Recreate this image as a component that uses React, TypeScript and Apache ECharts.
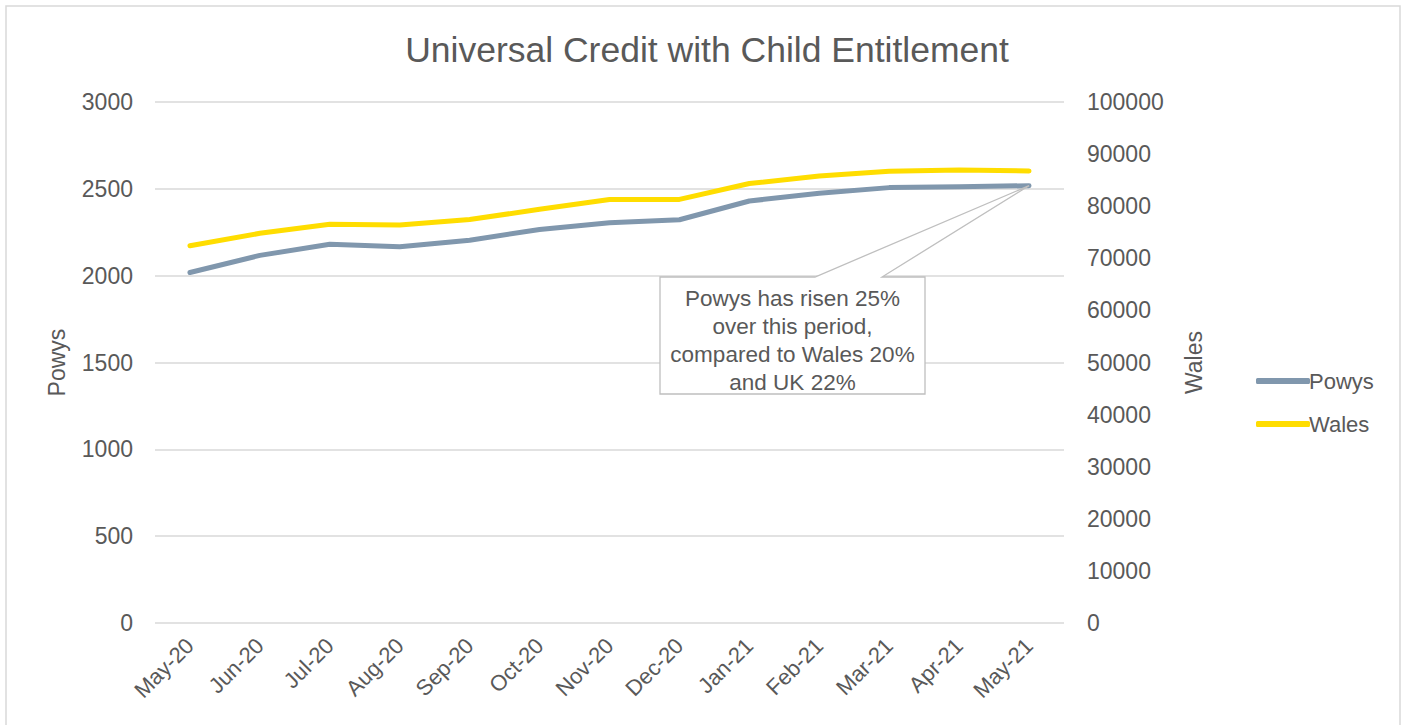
import React, { useEffect, useRef } from "react";
import * as echarts from "echarts";

const categories = ["May-20", "Jun-20", "Jul-20", "Aug-20", "Sep-20", "Oct-20", "Nov-20", "Dec-20", "Jan-21", "Feb-21", "Mar-21", "Apr-21", "May-21"];
const powys = [2018, 2117, 2181, 2166, 2204, 2266, 2305, 2322, 2430, 2474, 2507, 2512, 2518];
const wales = [72400, 74800, 76550, 76400, 77450, 79400, 81300, 81300, 84350, 85800, 86700, 86950, 86750];
const leftTicks = { min: 0, max: 3000, interval: 500 };
const rightTicks = { min: 0, max: 100000, interval: 10000 };
const noteLines = ["Powys has risen 25%", "over this period,", "compared to Wales 20%", "and UK 22%"];

const FONT = "Liberation Sans";
const TXT = "#595959";

export default function App() {
  const ref = useRef<HTMLDivElement>(null);
  useEffect(() => {
    if (!ref.current) return;
    const chart = echarts.init(ref.current, null, { renderer: "svg" });
    const plain = (v: number) => String(v);
    chart.setOption({
      animation: false,
      textStyle: { fontFamily: FONT, color: TXT },
      title: {
        text: "Universal Credit with Child Entitlement",
        left: 702,
        textAlign: "center",
        top: 27,
        textStyle: { fontFamily: FONT, fontSize: 35.5, fontWeight: "normal", color: TXT },
      },
      legend: {
        orient: "vertical",
        left: 1251,
        top: 365,
        itemWidth: 54,
        itemHeight: 6,
        itemGap: 21,
        icon: "roundRect",
        textStyle: { fontFamily: FONT, fontSize: 22, color: TXT, padding: [0, 0, 0, -6] },
        data: ["Powys", "Wales"],
      },
      grid: { left: 155, right: 342, top: 102, bottom: 102, containLabel: false },
      xAxis: {
        type: "category",
        data: categories,
        boundaryGap: true,
        axisLine: { show: false },
        axisTick: { show: false },
        axisLabel: { rotate: 45, fontSize: 22, color: TXT, fontFamily: FONT, margin: 19, interval: 0 },
      },
      yAxis: [
        {
          type: "value",
          ...leftTicks,
          name: "Powys",
          nameLocation: "middle",
          nameGap: 87,
          nameTextStyle: { fontSize: 23, color: TXT, fontFamily: FONT },
          axisLine: { show: false },
          axisTick: { show: false },
          axisLabel: { fontSize: 23, color: TXT, fontFamily: FONT, margin: 22, formatter: plain },
          splitLine: { lineStyle: { color: "#d9d9d9", width: 1.5 } },
        },
        {
          type: "value",
          ...rightTicks,
          position: "right",
          name: "Wales",
          nameLocation: "middle",
          nameGap: 118,
          nameTextStyle: { fontSize: 23, color: TXT, fontFamily: FONT },
          axisLine: { show: false },
          axisTick: { show: false },
          axisLabel: { fontSize: 23, color: TXT, fontFamily: FONT, margin: 23, formatter: plain },
          splitLine: { show: false },
        },
      ],
      series: [
        {
          name: "Powys",
          type: "line",
          yAxisIndex: 0,
          data: powys,
          symbol: "none",
          color: "#8097ad",
          lineStyle: { width: 5, color: "#8097ad", cap: "round", join: "round" },
          z: 3,
        },
        {
          name: "Wales",
          type: "line",
          yAxisIndex: 1,
          data: wales,
          symbol: "none",
          color: "#ffdd00",
          lineStyle: { width: 5, color: "#ffdd00", cap: "round", join: "round" },
          z: 2,
        },
      ],
    });

    const anchor = chart.convertToPixel({ xAxisIndex: 0, yAxisIndex: 0 }, [categories.length - 1, powys[powys.length - 1]]) as number[];
    const bx = 660, by = 277, bw = 265, bh = 117;
    chart.setOption({
      graphic: [
        {
          type: "rect",
          shape: { x: 6, y: 6, width: 1394, height: 740 },
          style: { fill: "none", stroke: "#d9d9d9", lineWidth: 1.5 },
          silent: true,
          z: 0,
        },
        {
          type: "polygon",
          shape: {
            points: [
              [bx, by],
              [815, by],
              [anchor[0], anchor[1]],
              [882, by],
              [bx + bw, by],
              [bx + bw, by + bh],
              [bx, by + bh],
            ],
          },
          style: { fill: "#ffffff", stroke: "#bfbfbf", lineWidth: 1.3 },
          z: 10,
        },
        ...noteLines.map((t, i) => ({
          type: "text",
          x: bx + bw / 2,
          y: 298 + i * 28.3,
          style: {
            text: t,
            fill: TXT,
            font: `22.5px "${FONT}"`,
            align: "center",
            verticalAlign: "middle",
          },
          z: 11,
        })),
      ],
    });
    return () => chart.dispose();
  }, []);
  return <div ref={ref} style={{ position: "absolute", left: 0, top: 0, width: 1406, height: 725 }} />;
}
